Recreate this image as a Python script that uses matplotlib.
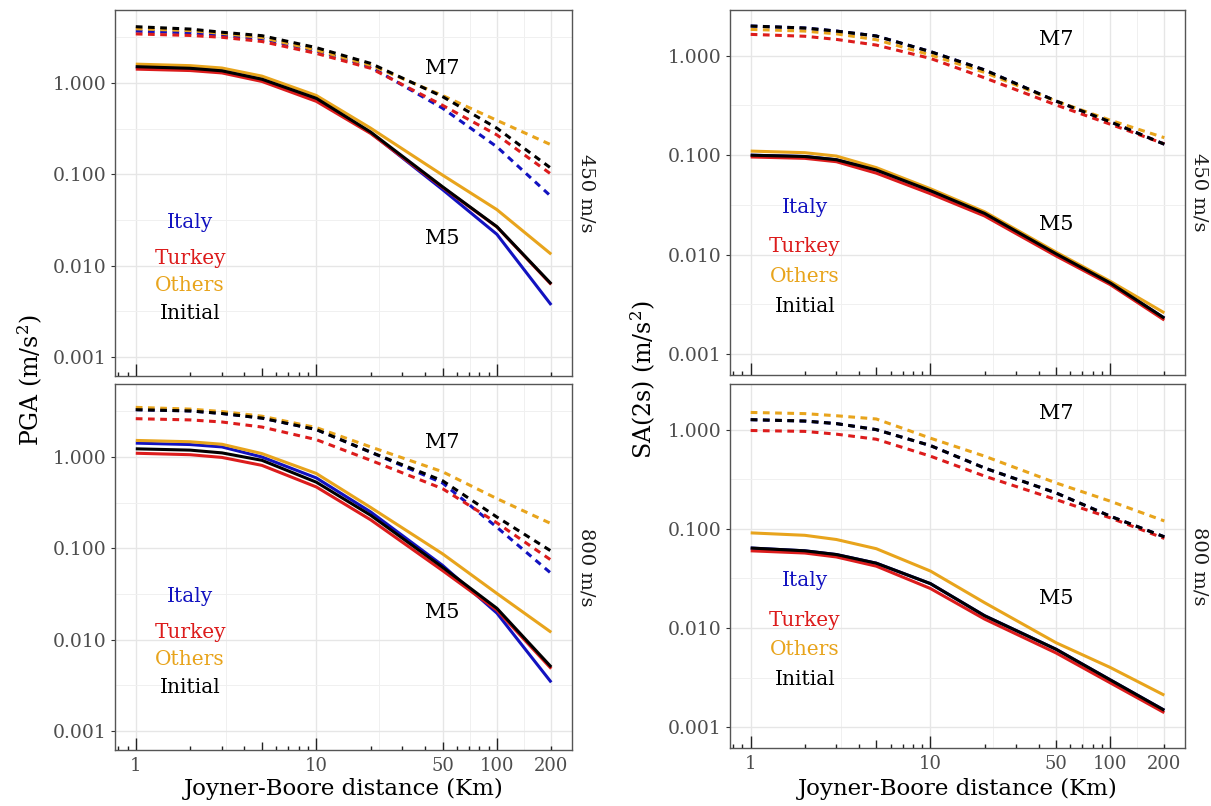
import numpy as np
import matplotlib
matplotlib.use("Agg")
from matplotlib import pyplot as plt
from matplotlib.ticker import FixedLocator, FixedFormatter, NullFormatter

plt.rcParams['font.family'] = ['DejaVu Serif']
plt.rcParams['mathtext.fontset'] = 'dejavuserif'

# distances (km) where the curves were read
distance = [1, 2, 3, 5, 10, 20, 50, 100, 200]
regions = ['Italy', 'Turkey', 'Others', 'Initial']
colors = {'Italy': '#1212C0', 'Turkey': '#DC1C1C', 'Others': '#E8A41C', 'Initial': '#000000'}

# PGA, Vs30 = 450 m/s
pga450_m5 = {
    'Italy':   [1.50, 1.44, 1.35, 1.09, 0.67, 0.285, 0.068, 0.022, 0.0037],
    'Turkey':  [1.42, 1.37, 1.29, 1.04, 0.63, 0.28, 0.072, 0.0265, 0.0062],
    'Others':  [1.61, 1.55, 1.46, 1.19, 0.73, 0.32, 0.098, 0.041, 0.0133],
    'Initial': [1.51, 1.45, 1.36, 1.10, 0.68, 0.29, 0.073, 0.0267, 0.0063],
}
pga450_m7 = {
    'Italy':   [3.70, 3.55, 3.35, 3.05, 2.25, 1.50, 0.53, 0.20, 0.057],
    'Turkey':  [3.45, 3.32, 3.17, 2.85, 2.11, 1.45, 0.57, 0.27, 0.10],
    'Others':  [3.93, 3.75, 3.50, 3.15, 2.30, 1.57, 0.73, 0.39, 0.21],
    'Initial': [4.14, 3.90, 3.60, 3.30, 2.44, 1.64, 0.71, 0.32, 0.116],
}
# PGA, Vs30 = 800 m/s
pga800_m5 = {
    'Italy':   [1.42, 1.37, 1.29, 1.00, 0.59, 0.25, 0.065, 0.0195, 0.0034],
    'Turkey':  [1.10, 1.06, 0.99, 0.81, 0.47, 0.205, 0.057, 0.021, 0.0048],
    'Others':  [1.52, 1.47, 1.38, 1.09, 0.66, 0.28, 0.087, 0.032, 0.012],
    'Initial': [1.23, 1.19, 1.11, 0.92, 0.53, 0.23, 0.062, 0.022, 0.005],
}
pga800_m7 = {
    'Italy':   [3.30, 3.20, 3.00, 2.67, 2.00, 1.13, 0.52, 0.17, 0.053],
    'Turkey':  [2.63, 2.55, 2.42, 2.13, 1.55, 0.92, 0.45, 0.19, 0.074],
    'Others':  [3.50, 3.35, 3.15, 2.80, 2.10, 1.29, 0.69, 0.35, 0.186],
    'Initial': [3.30, 3.20, 3.00, 2.67, 2.00, 1.13, 0.55, 0.22, 0.093],
}
# SA(2s), Vs30 = 450 m/s
sa450_m5 = {
    'Italy':   [0.100, 0.097, 0.090, 0.071, 0.044, 0.026, 0.0102, 0.0052, 0.0023],
    'Turkey':  [0.096, 0.093, 0.086, 0.066, 0.041, 0.0245, 0.0097, 0.0050, 0.0022],
    'Others':  [0.110, 0.106, 0.098, 0.075, 0.046, 0.027, 0.0106, 0.0054, 0.0026],
    'Initial': [0.100, 0.097, 0.090, 0.071, 0.044, 0.026, 0.0102, 0.0052, 0.0023],
}
sa450_m7 = {
    'Italy':   [1.99, 1.90, 1.77, 1.58, 1.10, 0.72, 0.35, 0.217, 0.129],
    'Turkey':  [1.64, 1.57, 1.46, 1.28, 0.94, 0.60, 0.32, 0.205, 0.130],
    'Others':  [1.84, 1.77, 1.66, 1.45, 1.02, 0.68, 0.35, 0.225, 0.150],
    'Initial': [1.99, 1.90, 1.77, 1.58, 1.10, 0.72, 0.35, 0.217, 0.129],
}
# SA(2s), Vs30 = 800 m/s
sa800_m5 = {
    'Italy':   [0.064, 0.060, 0.055, 0.045, 0.028, 0.0133, 0.0061, 0.0030, 0.00148],
    'Turkey':  [0.060, 0.057, 0.052, 0.042, 0.025, 0.0123, 0.0056, 0.0028, 0.00140],
    'Others':  [0.091, 0.086, 0.078, 0.063, 0.0375, 0.018, 0.0071, 0.0040, 0.0021],
    'Initial': [0.064, 0.060, 0.055, 0.045, 0.028, 0.0133, 0.0061, 0.0030, 0.00148],
}
sa800_m7 = {
    'Italy':   [1.26, 1.22, 1.15, 1.00, 0.69, 0.41, 0.23, 0.134, 0.083],
    'Turkey':  [0.98, 0.96, 0.90, 0.80, 0.54, 0.34, 0.197, 0.129, 0.080],
    'Others':  [1.49, 1.45, 1.38, 1.28, 0.82, 0.54, 0.29, 0.19, 0.120],
    'Initial': [1.26, 1.22, 1.15, 1.00, 0.69, 0.41, 0.23, 0.134, 0.083],
}

x_breaks = [1, 10, 50, 100, 200]
y_breaks = [0.001, 0.01, 0.1, 1]
y_labels = ['0.001', '0.010', '0.100', '1.000']
label_y = {'Italy': 0.03, 'Turkey': 0.012, 'Others': 0.006, 'Initial': 0.003}

fig = plt.figure(figsize=(12.11, 8.06), dpi=100)

W, H = 1211, 806
def make_ax(x0, x1, y0, y1):
    return fig.add_axes([x0 / W, 1 - y1 / H, (x1 - x0) / W, (y1 - y0) / H])

axes = {
    'pga450': make_ax(115, 572, 10, 376),
    'pga800': make_ax(115, 572, 384, 750),
    'sa450': make_ax(730, 1185, 10, 375),
    'sa800': make_ax(730, 1185, 384, 748),
}
panels = [
    ('pga450', pga450_m5, pga450_m7, '450 m/s', (10 ** -3.21, 10 ** 0.80), False),
    ('pga800', pga800_m5, pga800_m7, '800 m/s', (10 ** -3.21, 10 ** 0.80), True),
    ('sa450', sa450_m5, sa450_m7, '450 m/s', (10 ** -3.21, 10 ** 0.46), False),
    ('sa800', sa800_m5, sa800_m7, '800 m/s', (10 ** -3.21, 10 ** 0.46), True),
]

xmin, xmax = 10 ** -0.115, 10 ** 2.416
short_t = [0.8, 0.9, 2, 3, 4, 6, 7, 8, 9, 20, 30, 40, 60, 70, 80, 90, 200]
mid_t = [5, 50]
long_t = [1, 10, 100]

for key, m5, m7, strip, ylim, bottom in panels:
    ax = axes[key]
    ax.set_xscale('log')
    ax.set_yscale('log')
    ax.set_xlim(xmin, xmax)
    ax.set_ylim(*ylim)

    for r in regions:
        ax.plot(distance, m5[r], color=colors[r], lw=2.2, solid_capstyle='butt',
                solid_joinstyle='round', zorder=3)
    for r in regions:
        ax.plot(distance, m7[r], color=colors[r], lw=2.2, linestyle=(0, (2.2, 1.8)),
                dash_capstyle='butt', zorder=3)

    for r in regions:
        ax.text(2, label_y[r], r, color=colors[r], fontsize=14.5, ha='center', va='center', zorder=4)
    ax.text(50, 1.45, 'M7', fontsize=15, ha='center', va='center', zorder=4)
    ax.text(50, 0.02, 'M5', fontsize=15, ha='center', va='center', zorder=4)

    # grid
    ax.xaxis.set_major_locator(FixedLocator(x_breaks))
    ax.xaxis.set_minor_locator(FixedLocator([10 ** 0.5, np.sqrt(500), np.sqrt(5000), np.sqrt(20000)]))
    ax.yaxis.set_major_locator(FixedLocator(y_breaks))
    ax.yaxis.set_minor_locator(FixedLocator([10 ** -2.5, 10 ** -1.5, 10 ** -0.5, 10 ** 0.5]))
    ax.xaxis.set_minor_formatter(NullFormatter())
    ax.yaxis.set_minor_formatter(NullFormatter())
    ax.grid(which='major', color='#E6E6E6', lw=1.0)
    ax.grid(which='minor', color='#F0F0F0', lw=0.7)
    ax.set_axisbelow(True)

    ax.yaxis.set_major_formatter(FixedFormatter(y_labels))
    ax.tick_params(axis='y', which='major', length=3, width=0.8, color='#333333',
                   labelsize=13.5, labelcolor='#4D4D4D', pad=3)
    ax.tick_params(axis='both', which='minor', length=0)
    if bottom:
        ax.xaxis.set_major_formatter(FixedFormatter([str(v) for v in x_breaks]))
        ax.tick_params(axis='x', which='major', length=0, labelsize=13,
                       labelcolor='#4D4D4D', pad=5)
    else:
        ax.tick_params(axis='x', which='major', length=0, labelbottom=False)

    # log ticks along the bottom
    tr = ax.get_xaxis_transform()
    hpx = ax.get_position().height * H
    for vals, ln in ((short_t, 4), (mid_t, 8), (long_t, 12)):
        ax.vlines(vals, 0, ln / hpx, transform=tr, color='#222222', lw=1.0, zorder=5)

    for s in ax.spines.values():
        s.set_color('#555555')
        s.set_linewidth(1.0)

    ax.text(1.012, 0.5, strip, transform=ax.transAxes, rotation=-90, ha='left', va='center',
            fontsize=14, color='#1A1A1A')

fig.text(30 / W, 1 - 380 / H, 'PGA (m/s$^2$)', rotation=90, ha='center', va='center', fontsize=17)
fig.text(643 / W, 1 - 380 / H, 'SA(2s) (m/s$^2$)', rotation=90, ha='center', va='center', fontsize=17)
fig.text(343.5 / W, 1 - 789 / H, 'Joyner-Boore distance (Km)', ha='center', va='center', fontsize=16.5)
fig.text(957.5 / W, 1 - 789 / H, 'Joyner-Boore distance (Km)', ha='center', va='center', fontsize=16.5)

fig.savefig('out.png', dpi=100)
